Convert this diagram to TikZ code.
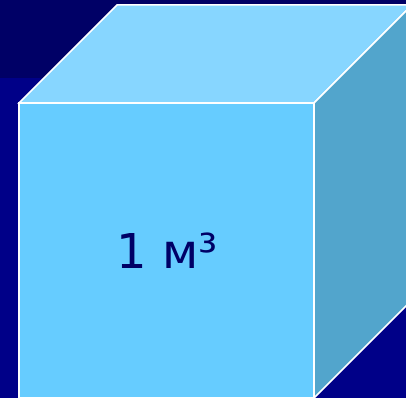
\documentclass[tikz,border=0pt]{standalone}
\usepackage{fontspec}
\usetikzlibrary{calc}
\newfontfamily\cubefont{DejaVu Sans}
\definecolor{bgnavy}{HTML}{000088}
\definecolor{bandnavy}{HTML}{000066}
\definecolor{frontblue}{HTML}{66CCFF}
\definecolor{topblue}{HTML}{87D6FF}
\definecolor{sideblue}{HTML}{52A5CC}
\definecolor{textnavy}{HTML}{000066}

\begin{document}
\begin{tikzpicture}[
    x=1pt, y=-1pt, % pixel-like units, y pointing down
    face/.style={draw=white, line width=1.5pt, line join=miter} % Style for cube faces
]

% Background
\useasboundingbox (0,0) rectangle (406,398);
\clip (0,0) rectangle (406,398);
\fill[bgnavy] (0,0) rectangle (406,398);
\fill[bandnavy] (0,0) rectangle (406,78);

% Front corners of the cube and depth of the oblique view
\coordinate (ftl) at (19,103);  % front top left
\coordinate (ftr) at (314,103); % front top right
\coordinate (fbr) at (314,398); % front bottom right
\coordinate (fbl) at (19,398);  % front bottom left
\def\depth{98}

% Back corners
\coordinate (btl) at ($(ftl)+(\depth,-\depth)$);
\coordinate (btr) at ($(ftr)+(\depth,-\depth)$);
\coordinate (bbr) at ($(fbr)+(\depth,-\depth)$);

% Faces
\filldraw[face, fill=topblue] (ftl) -- (btl) -- (btr) -- (ftr) -- cycle;
\filldraw[face, fill=sideblue] (ftr) -- (btr) -- (bbr) -- (fbr) -- cycle;
\filldraw[face, fill=frontblue] (ftl) -- (ftr) -- (fbr) -- (fbl) -- cycle;

% Volume label
\node[text=textnavy, font=\cubefont\fontsize{48}{58}\selectfont, inner sep=0pt] (volume) at (167,251) {1 м³};

\end{tikzpicture}
\end{document}
